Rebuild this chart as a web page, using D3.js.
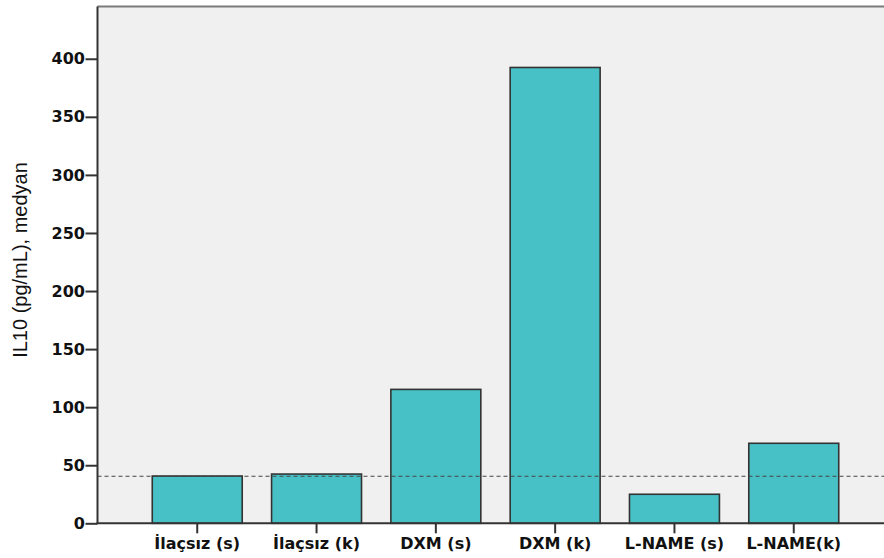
<!DOCTYPE html>
<html>
<head>
<meta charset="utf-8">
<script src="https://cdn.jsdelivr.net/npm/d3@7"></script>
<style>
  html, body { margin: 0; padding: 0; background: #ffffff; }
  svg { display: block; }
</style>
</head>
<body>
<svg id="chart" width="884" height="558"></svg>
<script>
// IL10 medians per group
const categories = ["İlaçsız (s)", "İlaçsız (k)", "DXM (s)", "DXM (k)", "L-NAME (s)", "L-NAME(k)"];
const values = [40.7, 42.4, 115.3, 392.5, 25.0, 68.9];
const yTicks = [0, 50, 100, 150, 200, 250, 300, 350, 400];
const referenceLine = 40.5;
const yLabel = "IL10 (pg/mL), medyan";

const svg = d3.select("#chart");
const W = 884, H = 558;
const plot = { left: 97.5, top: 6.5, bottom: 523.3, right: 893.5 };

const y = d3.scaleLinear().domain([0, 445]).range([plot.bottom, plot.top]);
const x = d3.scaleBand()
  .domain(categories)
  .range([plot.left, plot.right])
  .paddingInner(0.246)
  .paddingOuter(0.459);

// plot background
svg.append("rect")
  .attr("x", plot.left).attr("y", plot.top)
  .attr("width", W - plot.left).attr("height", plot.bottom - plot.top)
  .attr("fill", "#f0f0f0");

// top frame line
svg.append("line")
  .attr("x1", plot.left).attr("x2", W)
  .attr("y1", plot.top).attr("y2", plot.top)
  .attr("stroke", "#7a7a7a").attr("stroke-width", 2);

// bars
svg.append("g").selectAll("rect")
  .data(categories.map((c, i) => ({ c, v: values[i] })))
  .join("rect")
  .attr("x", d => x(d.c))
  .attr("y", d => y(d.v))
  .attr("width", x.bandwidth())
  .attr("height", d => y(0) - y(d.v))
  .attr("fill", "#48c1c6")
  .attr("stroke", "#333333")
  .attr("stroke-width", 1.6);

// dashed reference line
svg.append("line")
  .attr("x1", plot.left).attr("x2", W)
  .attr("y1", y(referenceLine)).attr("y2", y(referenceLine))
  .attr("stroke", "#444").attr("stroke-width", 1)
  .attr("stroke-dasharray", "4,3");

// y axis
const yAxis = svg.append("g")
  .attr("transform", `translate(${plot.left},0)`)
  .call(d3.axisLeft(y).tickValues(yTicks).tickSize(12).tickPadding(0.5).tickSizeOuter(0));
yAxis.select(".domain").remove();
yAxis.append("line")
  .attr("x1", 0).attr("x2", 0)
  .attr("y1", plot.top).attr("y2", plot.bottom)
  .attr("stroke", "#333").attr("stroke-width", 2);
yAxis.selectAll(".tick line").attr("stroke", "#333").attr("stroke-width", 2);
yAxis.selectAll(".tick text")
  .attr("fill", "#111")
  .style("font-family", "'DejaVu Sans', Verdana, sans-serif")
  .style("font-weight", "bold")
  .style("font-size", "16px");

// x axis
const xAxis = svg.append("g")
  .attr("transform", `translate(0,${plot.bottom})`)
  .call(d3.axisBottom(x).tickSize(10).tickPadding(4).tickSizeOuter(0));
xAxis.select(".domain").remove();
xAxis.append("line")
  .attr("x1", plot.left - 1).attr("x2", W)
  .attr("y1", 0).attr("y2", 0)
  .attr("stroke", "#333").attr("stroke-width", 2);
xAxis.selectAll(".tick line").attr("stroke", "#333").attr("stroke-width", 2);
xAxis.selectAll(".tick text")
  .attr("fill", "#111")
  .style("font-family", "'DejaVu Sans', Verdana, sans-serif")
  .style("font-weight", "bold")
  .style("font-size", "16px");

// y axis title
svg.append("text")
  .attr("transform", `translate(27,260) rotate(-90)`)
  .attr("text-anchor", "middle")
  .attr("fill", "#111")
  .style("font-family", "'Liberation Sans', Arial, sans-serif")
  .style("font-size", "20px")
  .text(yLabel);
</script>
</body>
</html>
